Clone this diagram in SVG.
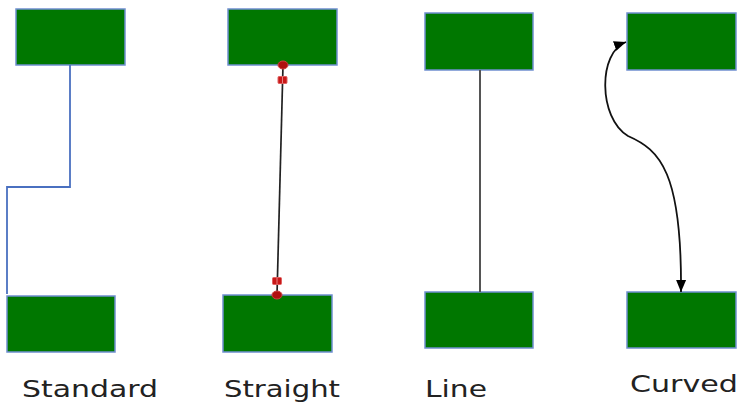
<svg xmlns="http://www.w3.org/2000/svg" width="740" height="405" viewBox="0 0 740 405">
<style>
.box{fill:#007700;stroke:#6f8fcf;stroke-width:1.5}
.lbl{font-family:"DejaVu Sans","Liberation Sans",sans-serif;font-size:23px;fill:#222}
.dot{fill:#b01010;stroke:#d04040;stroke-width:1}
.hnd{fill:#c81818;stroke:#e06060;stroke-width:1}
</style>
<defs>
<marker id="arr" viewBox="0 0 12 12" refX="12" refY="6" markerWidth="12" markerHeight="12" markerUnits="userSpaceOnUse" orient="auto-start-reverse">
<path d="M0,1 L12,6 L0,11 Z" fill="#000"/>
</marker>
</defs>
<rect width="740" height="405" fill="#fff"/>
<g id="n-standard-top"><rect class="box" x="16" y="9" width="109" height="56"/></g>
<g id="n-standard-bottom"><rect class="box" x="7" y="296" width="108" height="56"/></g>
<g id="n-straight-top"><rect class="box" x="228" y="9" width="109" height="56"/></g>
<g id="n-straight-bottom"><rect class="box" x="223" y="295" width="109" height="57"/></g>
<g id="n-line-top"><rect class="box" x="425" y="13" width="108" height="57"/></g>
<g id="n-line-bottom"><rect class="box" x="425" y="292" width="108" height="56"/></g>
<g id="n-curved-top"><rect class="box" x="627" y="13" width="109" height="57"/></g>
<g id="n-curved-bottom"><rect class="box" x="627" y="292" width="109" height="56"/></g>
<g id="connectors" fill="none">
<path id="c-standard" d="M70,65 V187 H7 V294" stroke="#4a70c0" stroke-width="1.8"/>
<g id="c-straight">
<line x1="283" y1="65" x2="277" y2="295" stroke="#222" stroke-width="1.7"/>
<ellipse class="dot" cx="283" cy="65" rx="5" ry="4"/>
<ellipse class="dot" cx="277" cy="295" rx="5" ry="4"/>
<rect class="hnd" x="278" y="76.5" width="9" height="7" rx="1"/>
<line x1="282.5" y1="77" x2="282.5" y2="83" stroke="#f0a0a0" stroke-width="0.8"/>
<rect class="hnd" x="272.5" y="277.5" width="9" height="7" rx="1"/>
<line x1="277" y1="278" x2="277" y2="284" stroke="#f0a0a0" stroke-width="0.8"/>
</g>
<line id="c-line" x1="480" y1="70" x2="480" y2="292" stroke="#555" stroke-width="2"/>
<path id="c-curved" d="M626,42 C598,52 598,118 628,136 C660,150 682,172 681,292" stroke="#111" stroke-width="1.8" marker-start="url(#arr)" marker-end="url(#arr)"/>
</g>
<g id="labels">
<text class="lbl" x="22" y="397" textLength="136" lengthAdjust="spacingAndGlyphs">Standard</text>
<text class="lbl" x="224" y="397" textLength="116" lengthAdjust="spacingAndGlyphs">Straight</text>
<text class="lbl" x="425" y="397" textLength="62" lengthAdjust="spacingAndGlyphs">Line</text>
<text class="lbl" x="630" y="392" textLength="108" lengthAdjust="spacingAndGlyphs">Curved</text>
</g>
</svg>
